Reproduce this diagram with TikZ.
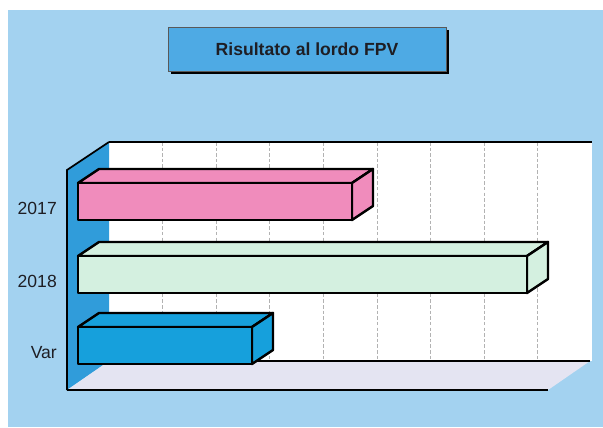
\documentclass[tikz,border=0pt]{standalone}
\usepackage{fontspec}
\setmainfont{Liberation Sans}
\usepackage{xcolor}
\usepackage{tikz}
\definecolor{PageBlue}{RGB}{163,210,240}
\definecolor{TitleBlue}{RGB}{78,170,228}
\definecolor{WallBlue}{RGB}{48,156,218}
\definecolor{FloorGray}{RGB}{228,228,242}
\definecolor{PinkBar}{RGB}{240,140,188}
\definecolor{GreenBar}{RGB}{212,240,224}
\definecolor{VarBar}{RGB}{22,160,220}
\definecolor{TextDark}{RGB}{30,30,36}

\begin{document}
\begin{tikzpicture}[x={(0.02cm,0cm)}, y={(0cm,-0.02cm)},
		every node/.style={font=\fontsize{10}{12}\selectfont, text=TextDark},
		barline/.style={draw=black, line width=1.4pt, line join=round}]
		
		\useasboundingbox (0,0) rectangle (603,427);
		
		% page background
		\fill[PageBlue] (8,10) rectangle (603,427);
		
		% title box with shadow
		\fill[black] (171,30) rectangle (449,74);
		\filldraw[TitleBlue, draw=gray!70!black, thin] (168,27) rectangle (446,71);
		\node[font=\fontsize{10}{12}\selectfont\bfseries] (title) at (307,49) {Risultato al lordo FPV};
		
		% walls and floor
		\fill[white] (109,142) rectangle (592,361);
		\fill[WallBlue] (67,170) -- (109,142) -- (109,361) -- (67,390) -- cycle;
		\fill[FloorGray] (67,390) -- (109,361) -- (590,361) -- (548,390) -- cycle;
		\foreach \k in {1,...,8}
			\draw[gray!60, dash pattern=on 2pt off 1.2pt, line width=0.35pt] (109+53.6*\k,142) -- (109+53.6*\k,361);
		\draw[line width=1pt] (109,142) -- (592,142);
		\draw[line width=1pt] (109,361) -- (590,361);
		\draw[line width=1pt] (67,390) -- (67,170) -- (109,142);
		\draw[line width=1pt] (67,390) -- (548,390);
		
		% bars
		\foreach \ytop/\xend/\col in {183/352/PinkBar, 256/527/GreenBar, 327/252/VarBar}{
			\filldraw[fill=\col, barline] (78,\ytop) -- (99,\ytop-14) -- (\xend+21,\ytop-14) -- (\xend,\ytop) -- cycle; % top face
			\filldraw[fill=\col, barline] (\xend,\ytop) -- (\xend+21,\ytop-14) -- (\xend+21,\ytop+23) -- (\xend,\ytop+37) -- cycle; % side face
			\filldraw[fill=\col, barline] (78,\ytop) rectangle (\xend,\ytop+37); % front face
		}
		
		% category labels
		\node[anchor=east] (lab2017) at (63,208) {2017};
		\node[anchor=east] (lab2018) at (63,281) {2018};
		\node[anchor=east] (labvar) at (63,353) {Var};
		
	\end{tikzpicture}
\end{document}
